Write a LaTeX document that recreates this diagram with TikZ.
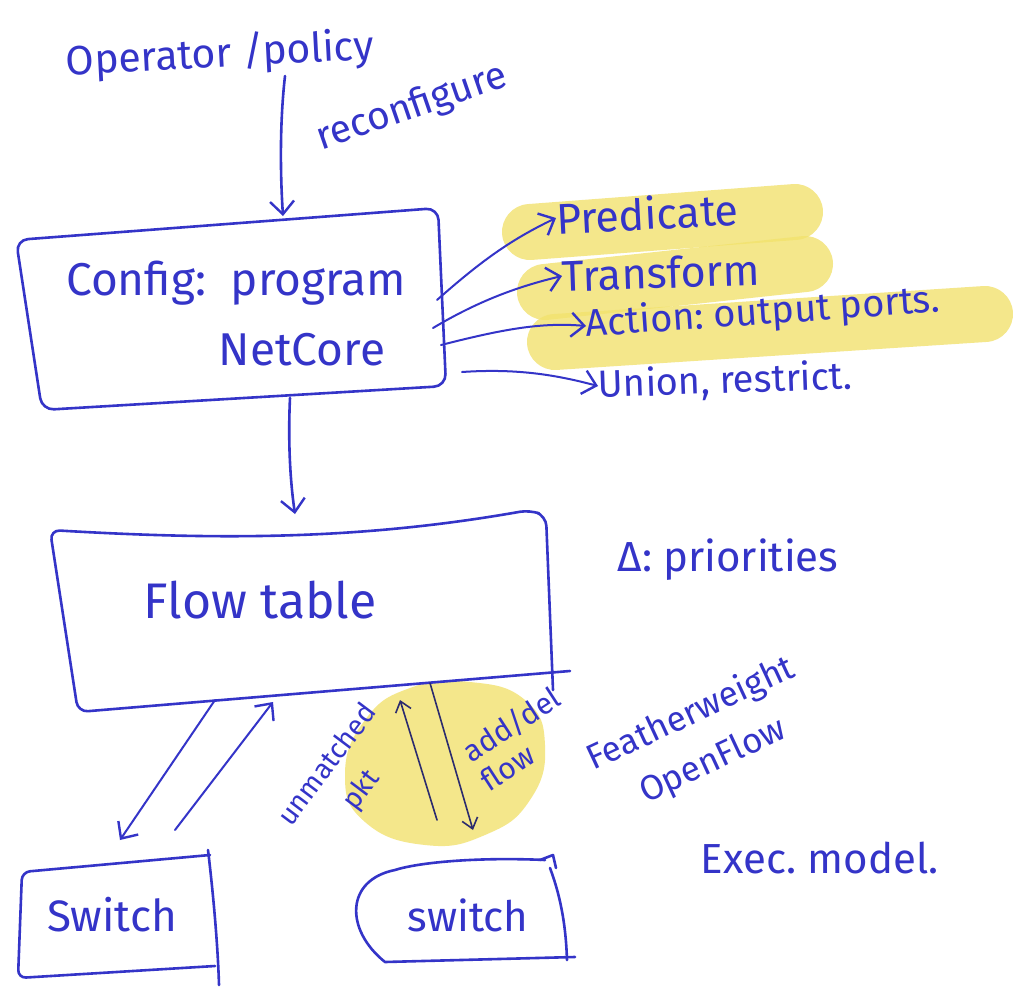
\documentclass[tikz,border=0pt]{standalone}
\usepackage{fontspec}
\setmainfont{Fira Sans}
\usetikzlibrary{arrows.meta}
\definecolor{ink}{RGB}{52,52,200}
\definecolor{inkdark}{RGB}{44,44,110}
\definecolor{marker}{RGB}{242,226,110}

\begin{document}
\begin{tikzpicture}[x=1pt,y=-1pt,
  pen/.style={draw=ink, line width=2.6pt, line cap=round, line join=round},
  finepen/.style={draw=ink, line width=2pt, line cap=round, line join=round},
  darkpen/.style={draw=inkdark, line width=1.6pt, line cap=round, line join=round},
  barb/.style={-{Straight Barb[length=13pt,width=24pt,line width=2.4pt]}},
  smallbarb/.style={-{Straight Barb[length=10pt,width=16pt,line width=1.6pt]}},
  hand/.style={text=ink, inner sep=0pt, font=\fontsize{#1}{#1}\selectfont},
  hl/.style={draw=marker, line width=56pt, line cap=round, opacity=0.8},
]
\path[use as bounding box] (0,0) rectangle (1013,988);
\fill[white] (0,0) rectangle (1013,988);

% marker strokes behind the list of constructs
\draw[hl] (530,232) -- (795,212);
\draw[hl] (545,292) -- (805,264);
\draw[hl] (555,342) -- (985,314);
% marker blob round the controller/switch messages
\fill[marker, opacity=0.8] plot[smooth cycle, tension=0.8] coordinates
  {(345,775) (365,720) (410,688) (470,682) (525,700) (545,745) (530,800) (485,835) (425,845) (365,822)};

% top: operator and reconfigure
\node[hand=41, rotate=3] (op) at (220,55) {Operator /policy};
\node[hand=39, rotate=19] (reconf) at (412,108) {reconfigure};
\coordinate (opS) at (285,76);

% configuration box
\draw[pen, rounded corners=12pt] (16,240) -- (438,208) -- (446,386) -- (42,410) -- cycle;
\node[hand=46] (cfg) at (236,283) {Config:\ \ program};
\node[hand=46] (netcore) at (302,350) {NetCore};
\coordinate (cfgN) at (283,216);
\coordinate (cfgS) at (290,398);
\coordinate (cfgA) at (437,300);
\coordinate (cfgB) at (433,328);
\coordinate (cfgC) at (441,345);
\coordinate (cfgD) at (462,372);

\draw[pen, barb] (opS) .. controls (280,120) and (280,170) .. (cfgN);

% constructs of the language
\node[hand=43, rotate=3, anchor=west] (pred) at (556,218) {Predicate};
\node[hand=43, rotate=2, anchor=west] (trans) at (562,276) {Transform};
\node[hand=38, rotate=4, anchor=west] (act) at (586,326) {Action:\ output ports.};
\node[hand=38, rotate=2, anchor=west] (union) at (598,386) {Union, restrict.};

\draw[finepen, barb] (cfgA) .. controls (480,262) and (510,240) .. (pred.west);
\draw[finepen, barb] (cfgB) .. controls (480,300) and (520,286) .. (trans.west);
\draw[finepen, barb] (cfgC) .. controls (500,330) and (540,322) .. (act.west);
\draw[finepen, barb] (cfgD) .. controls (520,368) and (560,376) .. (union.west);

% flow table
\draw[pen, rounded corners=10pt] (570,671) -- (78,712) -- (50,530)
   .. controls (220,540) and (360,540) .. (530,510) -- (546,516) -- (553,690);
\node[hand=50] (flow) at (260,600) {Flow table};
\coordinate (ftN) at (295,514);
\draw[pen, barb] (cfgS) .. controls (288,440) and (290,480) .. (ftN);

\node[hand=42] (prio) at (728,560) {Δ:\ priorities};

% switches
\draw[pen, rounded corners=8pt] (210,855) -- (22,872) -- (18,978) -- (215,966);
\draw[pen] (208,850) .. controls (214,900) and (218,950) .. (219,985);
\node[hand=44] (swl) at (112,915) {Switch};

\draw[pen] (545,860) .. controls (480,857) and (420,862) .. (395,870)
   .. controls (345,880) and (345,930) .. (385,962) -- (575,957);
\draw[pen] (540,860) -- (553,855) -- (556,868);
\draw[pen] (550,868) .. controls (562,900) and (566,930) .. (567,960);
\node[hand=42] (swr) at (468,915) {switch};

% links between the flow table and the switches
\coordinate (ftA) at (215,700);
\coordinate (swA) at (120,840);
\coordinate (swB) at (175,830);
\coordinate (ftB) at (273,702);
\draw[finepen, barb] (ftA) -- (swA);
\draw[finepen, barb] (swB) -- (ftB);

\coordinate (pktS) at (437,820);
\coordinate (pktN) at (400,700);
\coordinate (addN) at (430,683);
\coordinate (addS) at (473,830);
\draw[darkpen, smallbarb] (pktS) -- (pktN);
\draw[darkpen, smallbarb] (addN) -- (addS);

\node[text=ink, inner sep=0pt, font=\fontsize{28}{42}\selectfont, rotate=53, align=center]
  (unm) at (345,778) {unmatched\\pkt};
\node[text=ink, inner sep=0pt, font=\fontsize{30}{34}\selectfont, rotate=33, align=left]
  (add) at (520,738) {add/del\\flow};

\node[text=ink, inner sep=0pt, font=\fontsize{35}{52}\selectfont, rotate=25, align=center]
  (feather) at (702,738) {Featherweight\\OpenFlow};
\node[hand=42] (exec) at (820,858) {Exec.\ model.};
\end{tikzpicture}
\end{document}
